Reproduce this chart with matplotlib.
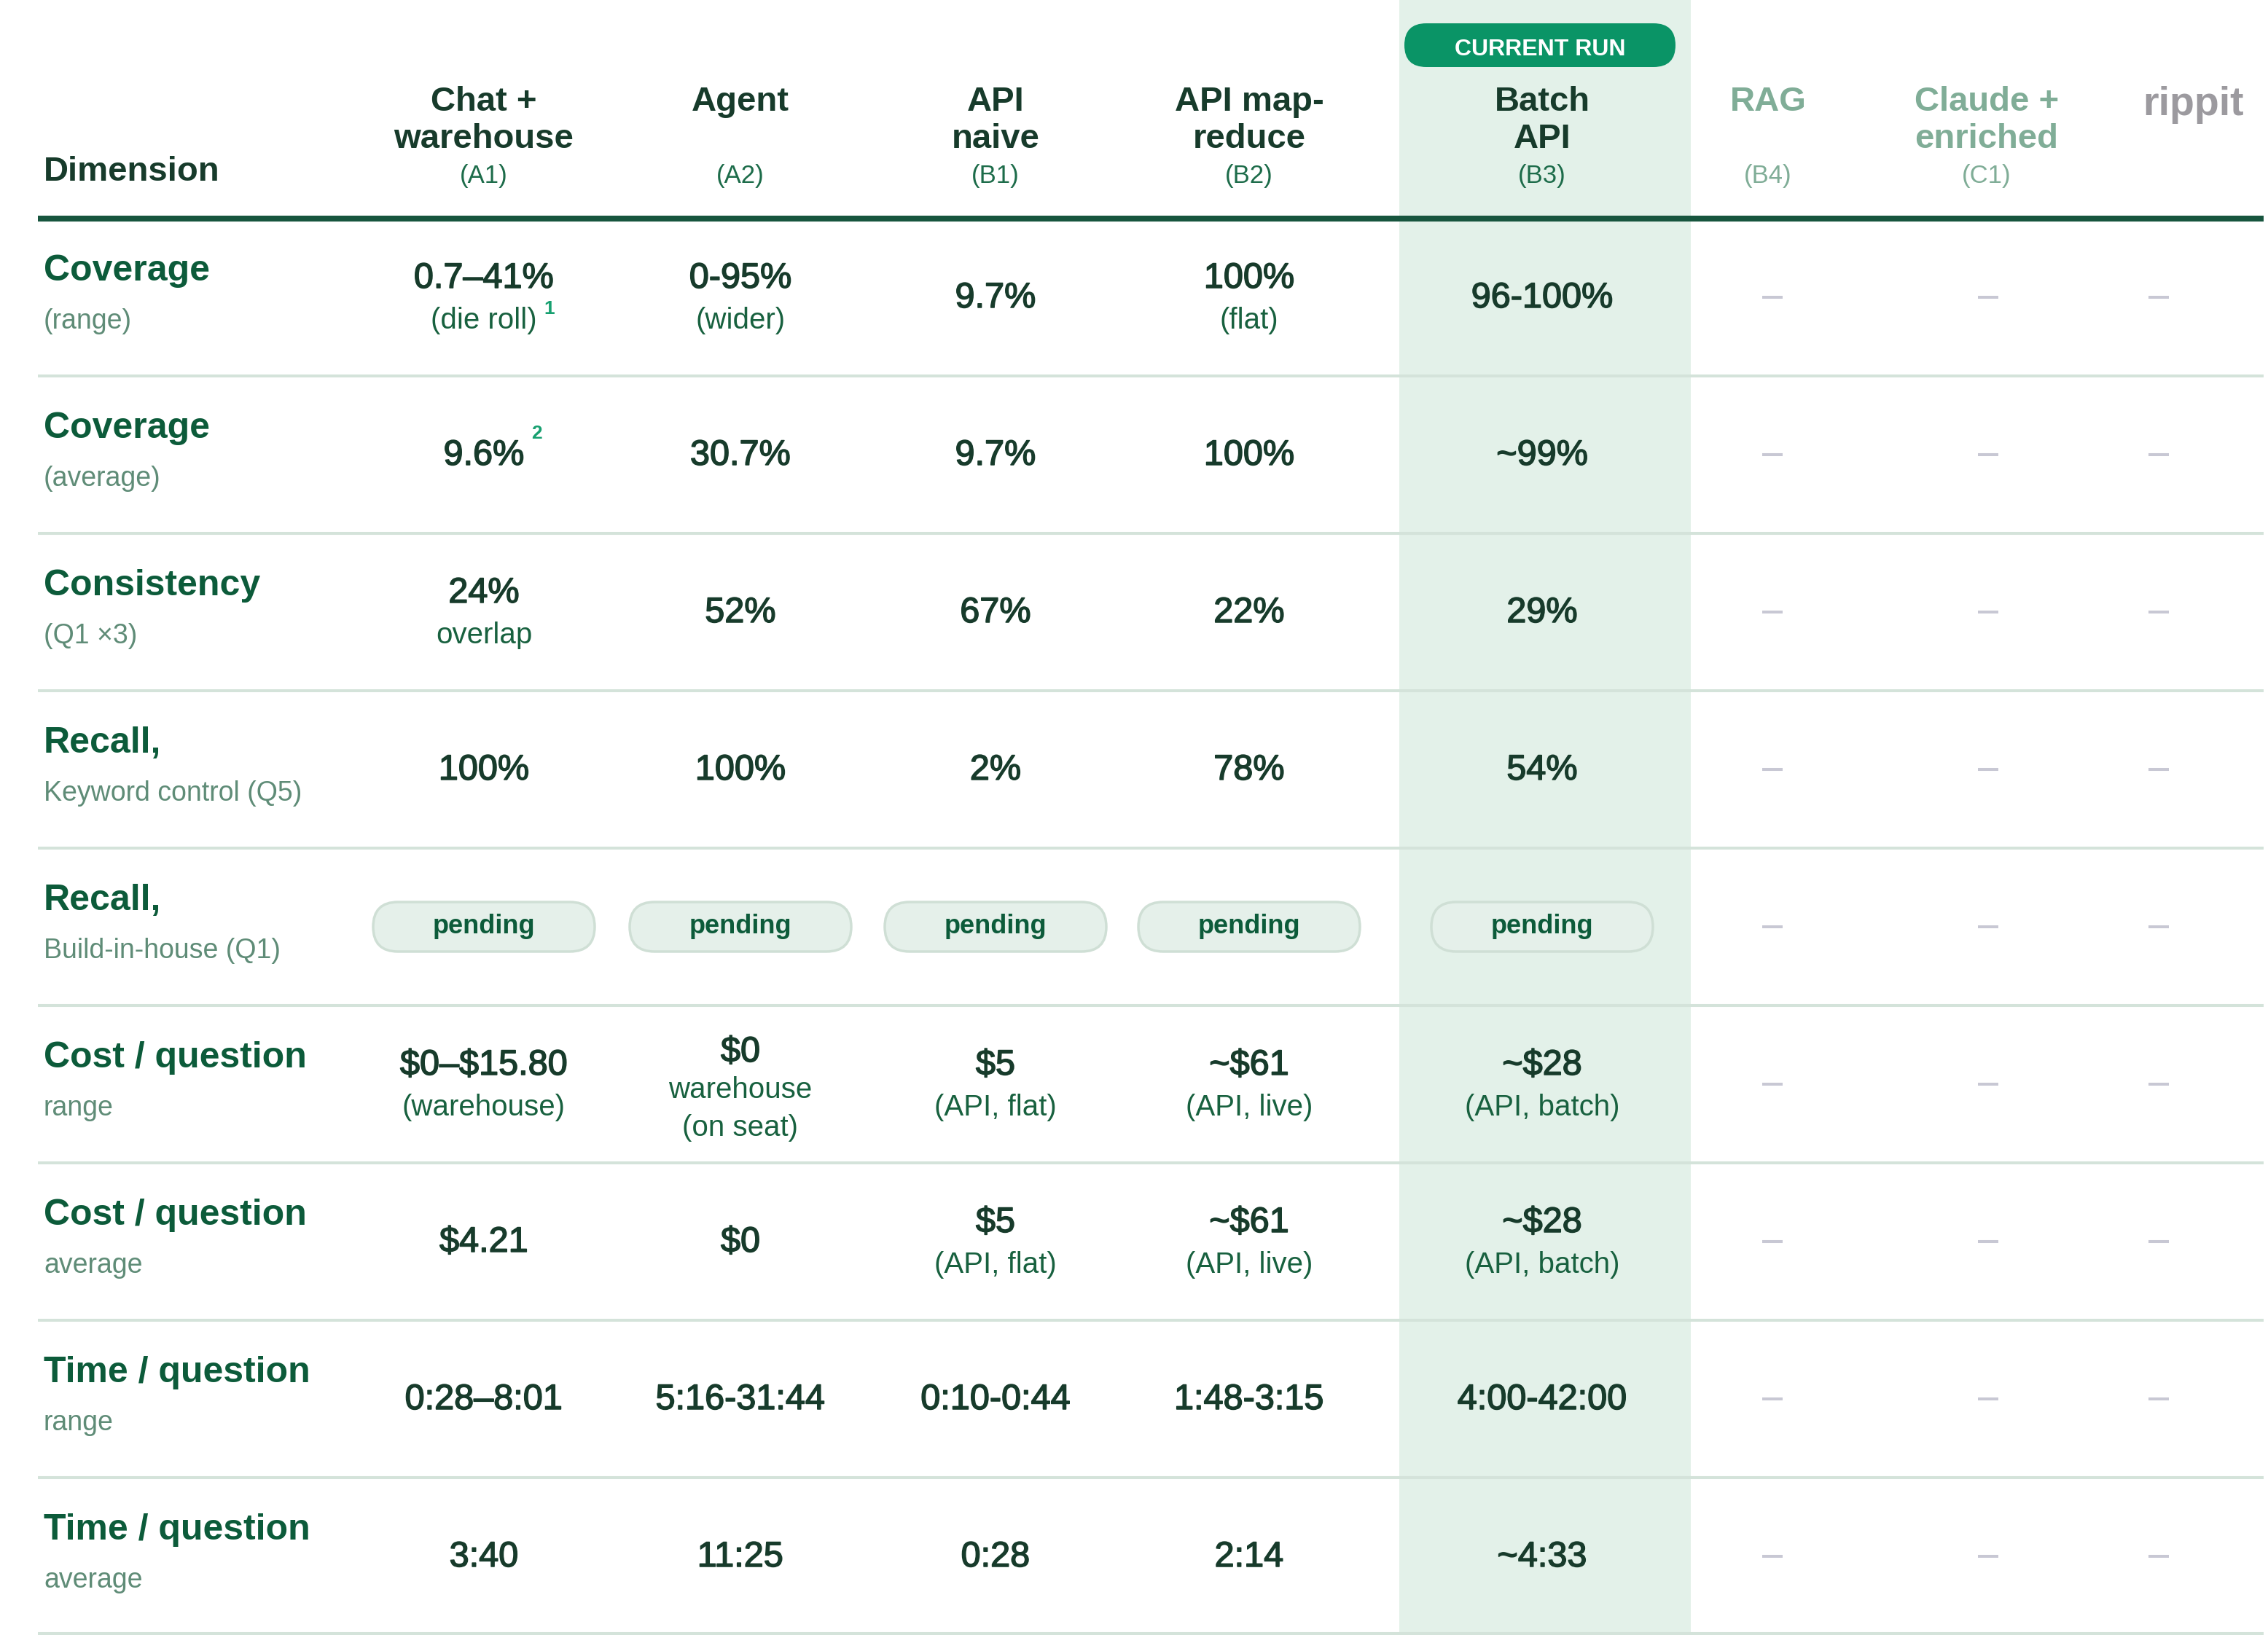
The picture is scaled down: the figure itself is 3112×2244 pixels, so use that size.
import matplotlib.pyplot as plt
import matplotlib.patheffects as pe
from matplotlib.patches import FancyBboxPatch, Rectangle

plt.rcParams['font.family'] = ['Liberation Sans', 'DejaVu Sans']
plt.rcParams['text.parse_math'] = False

# ---- table content ----
col_titles = ["Chat +\nwarehouse", "Agent", "API\nnaive", "API map-\nreduce",
              "Batch\nAPI", "RAG", "Claude +\nenriched", "rippit"]
col_codes = ["(A1)", "(A2)", "(B1)", "(B2)", "(B3)", "(B4)", "(C1)", ""]

row_titles = ["Coverage", "Coverage", "Consistency", "Recall,", "Recall,",
              "Cost / question", "Cost / question", "Time / question", "Time / question"]
row_subs = ["(range)", "(average)", "(Q1 \u00d73)", "Keyword control (Q5)",
            "Build-in-house (Q1)", "range", "average", "range", "average"]

cells = [
    ["0.7\u201341%\n(die roll)", "0-95%\n(wider)", "9.7%", "100%\n(flat)", "96-100%"],
    ["9.6%", "30.7%", "9.7%", "100%", "~99%"],
    ["24%\noverlap", "52%", "67%", "22%", "29%"],
    ["100%", "100%", "2%", "78%", "54%"],
    ["pending", "pending", "pending", "pending", "pending"],
    ["$0\u2013$15.80\n(warehouse)", "$0\nwarehouse\n(on seat)", "$5\n(API, flat)",
     "~$61\n(API, live)", "~$28\n(API, batch)"],
    ["$4.21", "$0", "$5\n(API, flat)", "~$61\n(API, live)", "~$28\n(API, batch)"],
    ["0:28\u20138:01", "5:16-31:44", "0:10-0:44", "1:48-3:15", "4:00-42:00"],
    ["3:40", "11:25", "0:28", "2:14", "~4:33"],
]
footnotes = {(0, 0): "1", (1, 0): "2"}
n_active = 5

# ---- colours ----
DARK = "#173b2b"
GREEN = "#0c5b3a"
SUBVAL = "#18613f"
SUBLBL = "#5f8c77"
CODE = "#1d6c4a"
FADED = "#80ad97"
GREYHDR = "#9c9a9f"
HILITE = "#e3f1e9"
PILL = "#0a9466"
RULE = "#d4e3da"
HEADRULE = "#17553e"
DASH = "#c8c8d4"
SUP = "#17a070"

W, H = 3112, 2244
fig = plt.figure(figsize=(W / 100, H / 100), dpi=100)
ax = fig.add_axes([0, 0, 1, 1])
ax.set_xlim(0, W)
ax.set_ylim(H, 0)
ax.axis('off')
renderer = fig.canvas.get_renderer()

col_x = [664, 1016, 1366, 1714, 2116, 2426, 2726, 3010]
dash_x = [2432, 2728, 2962]
left, right = 52, 3106
top0, row_h = 300, 216

# medium-ish weight for the main numbers
medium = [pe.withStroke(linewidth=1.1, foreground=DARK)]

# highlighted column
ax.add_patch(Rectangle((1920, 0), 400, H, color=HILITE, lw=0, zorder=0))
ax.add_patch(FancyBboxPatch((1927, 32), 372, 60,
                            boxstyle="round,pad=0,rounding_size=30",
                            fc=PILL, ec='none', zorder=2))
ax.text(2113, 76, "CURRENT RUN", color='white', fontsize=23, fontweight='bold',
        ha='center', va='baseline', zorder=3)

# header
ax.text(60, 248, "Dimension", color=DARK, fontsize=34, fontweight='bold', va='baseline')
for i, (title, code) in enumerate(zip(col_titles, col_codes)):
    if i >= n_active:
        tc, cc = FADED, FADED
    else:
        tc, cc = DARK, CODE
    if title == "rippit":
        ax.text(col_x[i], 158, title, color=GREYHDR, fontsize=40, fontweight='bold',
                ha='center', va='baseline')
        continue
    for k, line in enumerate(title.split("\n")):
        ax.text(col_x[i], 152 + 51 * k, line, color=tc, fontsize=34, fontweight='bold',
                ha='center', va='baseline')
    ax.text(col_x[i], 251, code, color=cc, fontsize=25, ha='center', va='baseline')

ax.plot([left, right], [300, 300], color=HEADRULE, lw=5.8, solid_capstyle='butt', zorder=4)

# rows
for r in range(len(row_titles)):
    top = top0 + r * row_h
    ax.text(60, top + 85, row_titles[r], color=GREEN, fontsize=36, fontweight='bold',
            va='baseline')
    ax.text(60, top + 151, row_subs[r], color=SUBLBL, fontsize=27, va='baseline')

    for c in range(n_active):
        x = col_x[c]
        val = cells[r][c]
        if val == "pending":
            ax.add_patch(FancyBboxPatch((x - 152, top + 74), 304, 68,
                                        boxstyle="round,pad=0,rounding_size=34",
                                        fc="#e5f0ea", ec="#cfdfd5", lw=2.5, zorder=2))
            ax.text(x, top + 117, val, color=GREEN, fontsize=26, fontweight='bold',
                    ha='center', va='baseline', zorder=3)
            continue
        lines = val.split("\n")
        if len(lines) == 1:
            ys = [top + 122]
        elif len(lines) == 2:
            ys = [top + 95, top + 151]
        else:
            ys = [top + 77, top + 127, top + 179]
        last = None
        for k, (line, y) in enumerate(zip(lines, ys)):
            if k == 0:
                last = ax.text(x, y, line, color=DARK, fontsize=35, ha='center',
                               va='baseline', zorder=3, path_effects=medium)
            else:
                last = ax.text(x, y, line, color=SUBVAL, fontsize=29, ha='center',
                               va='baseline', zorder=3)
        if (r, c) in footnotes:
            bb = last.get_window_extent(renderer=renderer)
            lift = 36 if len(lines) == 1 else 20
            ax.text(bb.x1 + 10, ys[-1] - lift, footnotes[(r, c)], color=SUP,
                    fontsize=19, fontweight='bold', va='baseline', zorder=3)

    for dx in dash_x:
        ax.plot([dx - 14, dx + 14], [top + 108, top + 108], color=DASH, lw=2.9,
                solid_capstyle='butt')

    yline = min(top + row_h, H - 2)
    ax.plot([left, right], [yline, yline], color=RULE, lw=2.9, solid_capstyle='butt',
            zorder=1)

fig.savefig("out.png", dpi=100, facecolor='white')
